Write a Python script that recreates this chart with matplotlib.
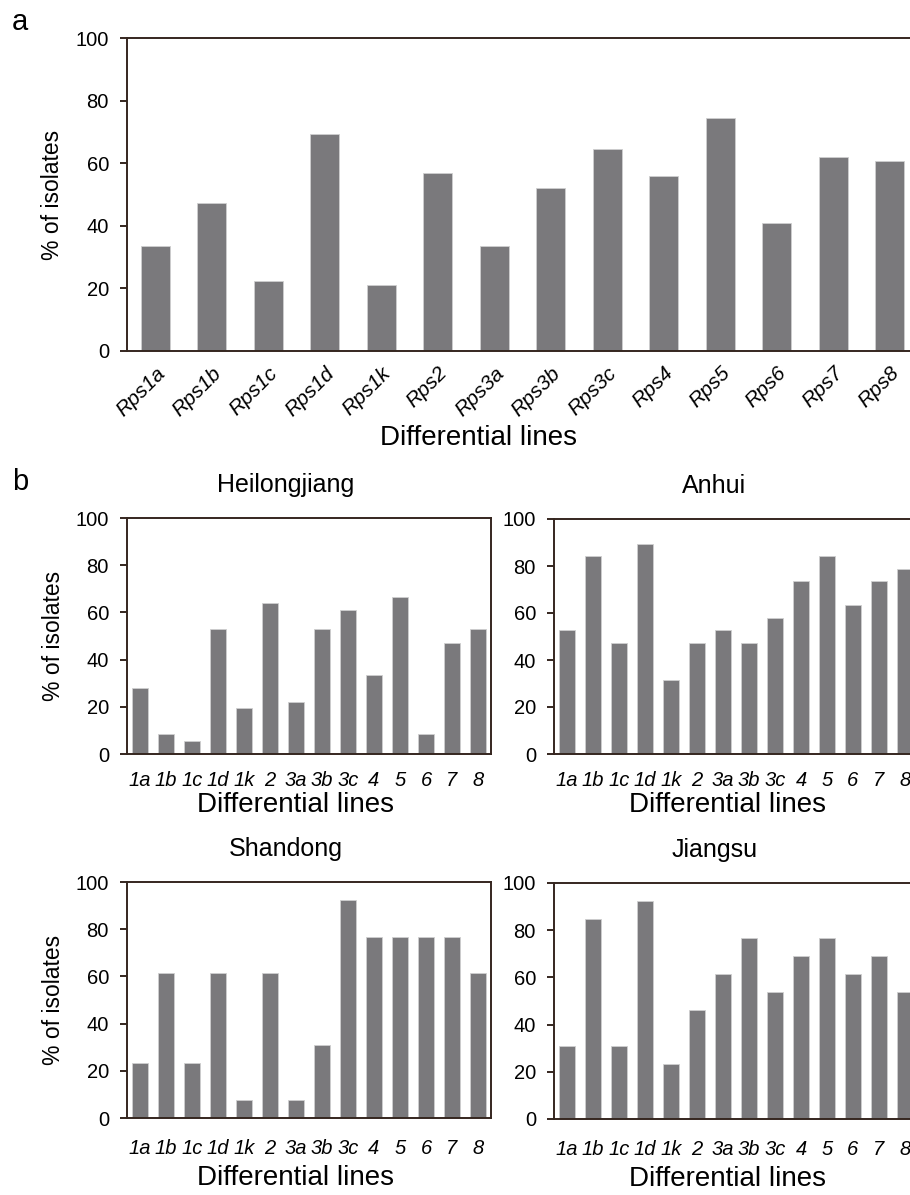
import matplotlib
matplotlib.use("Agg")
import matplotlib.pyplot as plt

# panel a: all isolates
rps_lines = ["Rps1a", "Rps1b", "Rps1c", "Rps1d", "Rps1k", "Rps2", "Rps3a",
             "Rps3b", "Rps3c", "Rps4", "Rps5", "Rps6", "Rps7", "Rps8"]
all_pct = [33.6, 47.2, 22.3, 69.4, 21.2, 57.0, 33.6, 52.0, 64.4, 55.9, 74.4, 41.0, 61.9, 60.7]

# panel b: per province
short_lines = ["1a", "1b", "1c", "1d", "1k", "2", "3a", "3b", "3c", "4", "5", "6", "7", "8"]
heilongjiang = [27.8, 8.3, 5.6, 52.8, 19.4, 63.9, 22.2, 52.8, 61.1, 33.3, 66.7, 8.3, 47.2, 52.8]
anhui = [52.6, 84.2, 47.4, 89.5, 31.6, 47.4, 52.6, 47.4, 57.9, 73.7, 84.2, 63.2, 73.7, 78.9]
shandong = [23.1, 61.5, 23.1, 61.5, 7.7, 61.5, 7.7, 30.8, 92.3, 76.9, 76.9, 76.9, 76.9, 61.5]
jiangsu = [30.8, 84.6, 30.8, 92.3, 23.1, 46.2, 61.5, 76.9, 53.8, 69.2, 76.9, 61.5, 69.2, 53.8]

BAR = "#7a797c"
EDGE = "#cfcfcf"
SPINE = "#35261f"

plt.rcParams["font.family"] = ["Liberation Sans", "DejaVu Sans"]

W, H = 910, 1195
fig = plt.figure(figsize=(W / 100, H / 100), dpi=100)


def px_axes(left, top, right, bottom):
    return fig.add_axes([left / W, 1 - bottom / H, (right - left) / W, (bottom - top) / H])


def style(ax):
    ax.set_ylim(0, 100)
    ax.set_yticks(range(0, 101, 20))
    ax.set_xlim(-0.5, 13.5)
    for sp in ax.spines.values():
        sp.set_color(SPINE)
        sp.set_linewidth(1.4)
    ax.tick_params(axis="y", direction="out", length=5, width=1.4, color=SPINE,
                   labelsize=14.5, pad=8)
    ax.tick_params(axis="x", length=0)


# ---- a ----
ax = px_axes(127, 38, 918, 351)
ax.bar(range(len(rps_lines)), all_pct, width=0.52, color=BAR, edgecolor=EDGE, linewidth=0.6)
style(ax)
ax.set_xticks(range(len(rps_lines)))
ax.set_xticklabels(rps_lines, rotation=45, ha="right", va="top", rotation_mode="anchor",
                   fontstyle="italic", fontsize=15)
ax.tick_params(axis="x", pad=9)
ax.set_xlabel("Differential lines", fontsize=20)
ax.xaxis.set_label_coords(0.444, -0.235)
ax.set_ylabel("% of isolates", fontsize=16.5)
ax.yaxis.set_label_coords(-0.08, 0.5)
fig.text(12 / W, 1 - 30 / H, "a", fontsize=21, va="baseline")

# ---- b ----
panels = [
    ("Heilongjiang", heilongjiang, (127, 518, 491, 754), True),
    ("Anhui", anhui, (554, 519, 918, 754), False),
    ("Shandong", shandong, (127, 882, 491, 1118), True),
    ("Jiangsu", jiangsu, (554, 883, 918, 1119), False),
]
for i, (name, vals, box, left_col) in enumerate(panels):
    ax = px_axes(*box)
    ax.bar(range(len(short_lines)), vals, width=0.64, color=BAR, edgecolor=EDGE, linewidth=0.6)
    style(ax)
    ax.set_xticks(range(len(short_lines)))
    ax.set_xticklabels(short_lines, fontstyle="italic", fontsize=14.5)
    ax.tick_params(axis="x", pad=12 if i < 2 else 15)
    ax.set_xlabel("Differential lines", fontsize=20)
    ax.xaxis.set_label_coords(0.464 if left_col else 0.478, -0.16 if i < 2 else -0.2)
    ax.text(0.437 if left_col else 0.44, 1.11, name, transform=ax.transAxes,
            ha="center", va="baseline", fontsize=18)
    if left_col:
        ax.set_ylabel("% of isolates", fontsize=16.5)
        ax.yaxis.set_label_coords(-0.17, 0.5)

fig.text(12 / W, 1 - 490 / H, "b", fontsize=21, va="baseline")

fig.savefig("out.png", dpi=100)
